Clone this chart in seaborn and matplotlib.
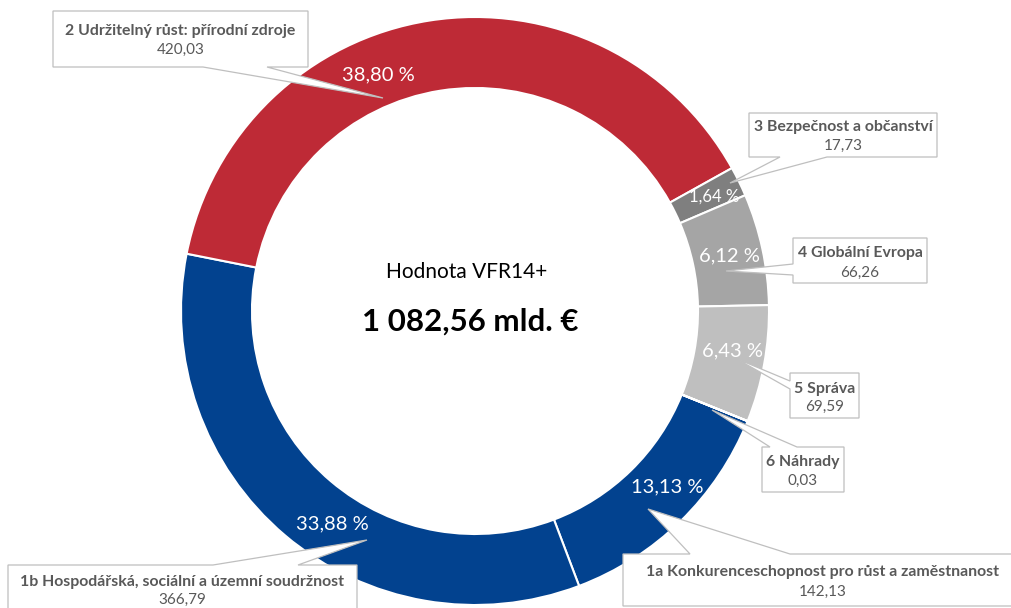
import matplotlib
matplotlib.use("Agg")
import matplotlib.pyplot as plt
from matplotlib.patches import Polygon
import seaborn as sns

# data
categories = ["1a Konkurenceschopnost pro růst a zaměstnanost",
              "1b Hospodářská, sociální a územní soudržnost",
              "2 Udržitelný růst: přírodní zdroje",
              "3 Bezpečnost a občanství",
              "4 Globální Evropa",
              "5 Správa",
              "6 Náhrady"]
values = [142.13, 366.79, 420.03, 17.73, 66.26, 69.59, 0.03]
colors = ["#02428F", "#02428F", "#BE2A36", "#7F7F7F", "#A5A5A5", "#BFBFBF", "#1F3B70"]
center_title = "Hodnota VFR14+"


def cz(x):
    return f"{x:,.2f}".replace(",", " ").replace(".", ",")


total = sum(values)

# layout (pixel coords, y down)
cx, cy, R, ring = 475, 311, 294, 71
pct_pos = [(667, 487), (332, 524), (378, 75), (714, 197), (729, 256), (732, 351), None]
pct_size = [14.5, 14.5, 14.5, 12, 14.5, 14.5, 14.5]
# box (left, top, right, bottom), side of pointer, pointer base, pointer tip, text y, value y
callouts = [
    ((623, 554, 1022, 606), "top", (690, 790), (648, 509), 572, 592),
    ((8, 565, 357, 614), "top", (213, 298), (367, 540), 582, 600),
    ((53, 11, 308, 67), "bottom", (203, 267), (383, 98), 31, 50),
    ((749, 113, 937, 157), "bottom", (780, 827), (730, 183), 127, 146),
    ((793, 238, 927, 283), "left", (264, 275), (726, 271), 253, 273),
    ((790, 373, 859, 418), "left", (381, 389), (735, 358), 389, 407),
    ((762, 447, 844, 492), "top", (770, 797), (712, 410), 462, 481),
]

sns.set_theme(style="white")
plt.rcParams['font.family'] = ['Lato', 'DejaVu Sans']

fig = plt.figure(figsize=(10.11, 6.08), dpi=100)
ax = fig.add_axes([0, 0, 1, 1])

wedges, _ = ax.pie(values, colors=colors, startangle=112 - 90, counterclock=True,
                   radius=R, center=(cx, cy),
                   wedgeprops=dict(width=ring, edgecolor="white", linewidth=1.5))
ax.set_xlim(0, 1011)
ax.set_ylim(608, 0)
ax.set_aspect("auto")
ax.axis("off")

for v, pos, fs in zip(values, pct_pos, pct_size):
    if pos is None:
        continue
    pct = v / total * 100
    ax.text(pos[0], pos[1], f"{pct:.2f} %".replace(".", ","), color="white",
            fontsize=fs, ha="center", va="center", zorder=6)


def pointer_box(box, side, base, tip):
    l, t, r, b = box
    if side == "top":
        pts = [(l, t), (base[0], t), tip, (base[1], t), (r, t), (r, b), (l, b)]
    elif side == "bottom":
        pts = [(l, t), (r, t), (r, b), (base[1], b), tip, (base[0], b), (l, b)]
    else:
        pts = [(l, t), (r, t), (r, b), (l, b), (l, base[1]), tip, (l, base[0])]
    return Polygon(pts, closed=True, facecolor="white", edgecolor="#BFBFBF",
                   linewidth=0.9, zorder=4)


for name, v, (box, side, base, tip, ty, vy) in zip(categories, values, callouts):
    ax.add_patch(pointer_box(box, side, base, tip))
    xm = (box[0] + box[2]) / 2
    ax.text(xm, ty, name, fontsize=11.4, fontweight="bold", color="#595959",
            ha="center", va="center", zorder=5)
    ax.text(xm, vy, cz(v), fontsize=11, color="#595959",
            ha="center", va="center", zorder=5)

ax.text(467, 272, center_title, fontsize=15, color="black", ha="center", va="center")
ax.text(470, 322, f"{cz(total)} mld. €", fontsize=22.5, fontweight="bold",
        color="black", ha="center", va="center")

fig.savefig("out.png", dpi=100)
